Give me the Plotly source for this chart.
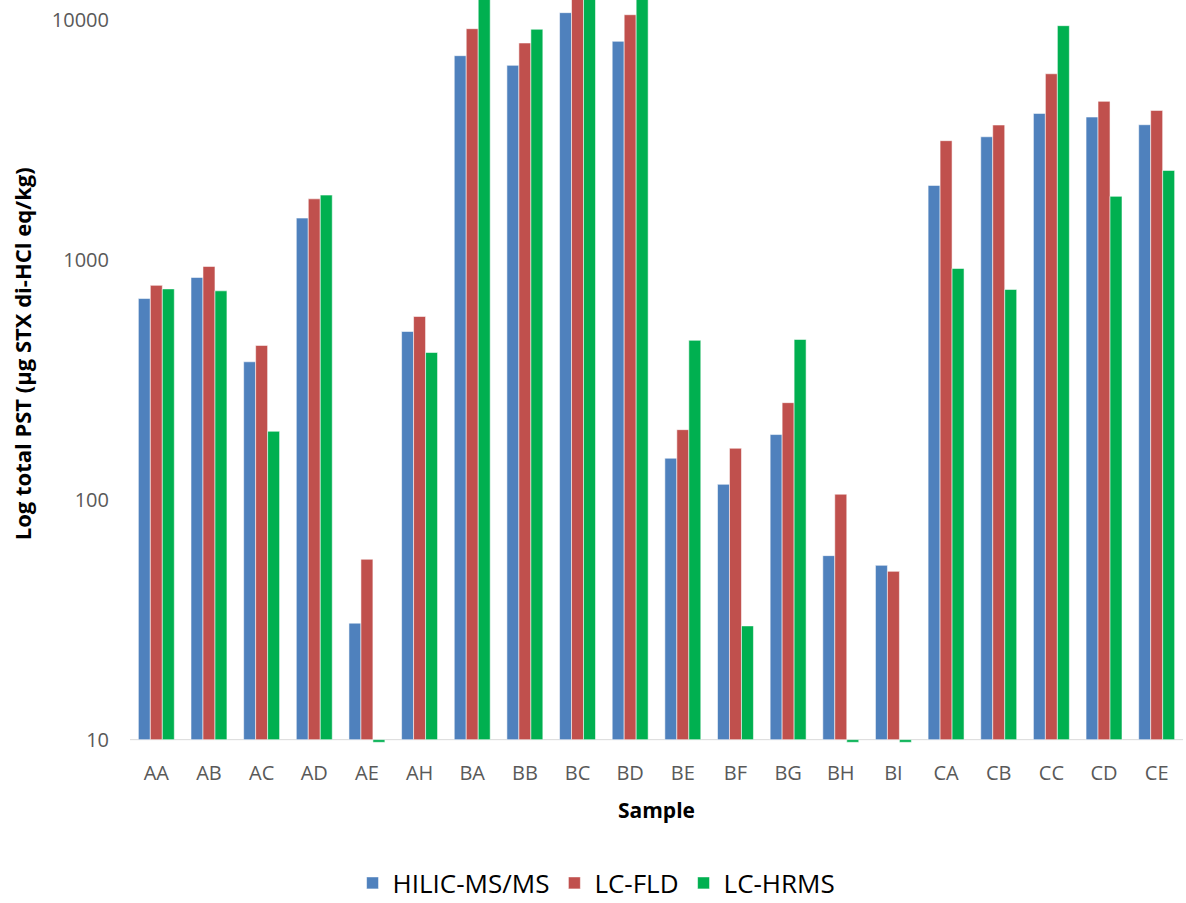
import math
import plotly.graph_objects as go

samples = ["AA", "AB", "AC", "AD", "AE", "AH", "BA", "BB", "BC", "BD",
           "BE", "BF", "BG", "BH", "BI", "CA", "CB", "CC", "CD", "CE"]

hilic = [690, 845, 376, 1494, 30.6, 503, 7100, 6470, 10730, 8150,
         149, 116, 187, 58.5, 53.3, 2044, 3260, 4080, 3940, 3660]
lcfld = [783, 939, 440, 1797, 56.5, 581, 9200, 8020, 12800, 10520,
         196, 164, 254, 105.5, 50.3, 3140, 3650, 5970, 4580, 4200]
lchrms = [757, 743, 193, 1863, 9.75, 411, 12500, 9150, 13500, 13000,
          462, 29.8, 466, 9.75, 9.75, 921, 753, 9470, 1840, 2360]

series_names = ["HILIC-MS/MS", "LC-FLD", "LC-HRMS"]
series_values = [hilic, lcfld, lchrms]
series_colors = ["#4F81BD", "#C0504D", "#00B050"]

axis_min = 10
tick_vals = [10, 100, 1000, 10000]
tick_text = ["10", "100", "1000", "10000"]

FONT = "Open Sans"

fig = go.Figure()
for name, vals, col in zip(series_names, series_values, series_colors):
    fig.add_trace(go.Bar(
        x=samples,
        y=[v - axis_min for v in vals],
        base=axis_min,
        name=name,
        marker=dict(color=col, line=dict(color="rgba(255,255,255,0.55)", width=1)),
        customdata=vals,
        hovertemplate="%{x}: %{customdata}<extra>" + name + "</extra>",
    ))

fig.add_shape(type="line", xref="paper", x0=0, x1=1, yref="y", y0=axis_min, y1=axis_min,
              line=dict(color="#D9D9D9", width=1), layer="below")

fig.add_annotation(
    text="<b>Log total PST (µg STX di-HCl eq/kg)</b>",
    textangle=-90, xref="paper", yref="paper",
    x=(22 - 130) / 1053, y=(744.6 - 354) / 744.6,
    xanchor="center", yanchor="middle", showarrow=False,
    font=dict(family=FONT, size=22, color="#000000"),
)

fig.update_layout(
    width=1186, height=903,
    margin=dict(l=130, r=3, t=0, b=158),
    paper_bgcolor="white", plot_bgcolor="white",
    barmode="group", bargap=0.317, bargroupgap=0,
    font=dict(family=FONT, color="#595959"),
    showlegend=True,
    legend=dict(orientation="h", xref="container", yref="container",
                x=0.503, xanchor="center", y=1 - 883 / 903, yanchor="middle",
                font=dict(family=FONT, size=26, color="#000000"), itemclick=False),
    xaxis=dict(showgrid=False, showline=False, ticks="", zeroline=False, automargin=False,
               tickfont=dict(family=FONT, size=20, color="#595959"),
               ticklabelstandoff=14,
               title=dict(text="<b>Sample</b>", standoff=18,
                          font=dict(family=FONT, size=21, color="#000000"))),
    yaxis=dict(type="log", range=[math.log10(9.5), 4.0834], showgrid=False, showline=False,
               zeroline=False, ticks="", tickvals=tick_vals, ticktext=tick_text,
               automargin=False,
               tickfont=dict(family=FONT, size=20, color="#595959"),
               ticklabelstandoff=20),
)

fig.write_html("out.html", config={"displayModeBar": False},
               post_script="document.body.style.margin='0';document.body.style.overflow='hidden';")
